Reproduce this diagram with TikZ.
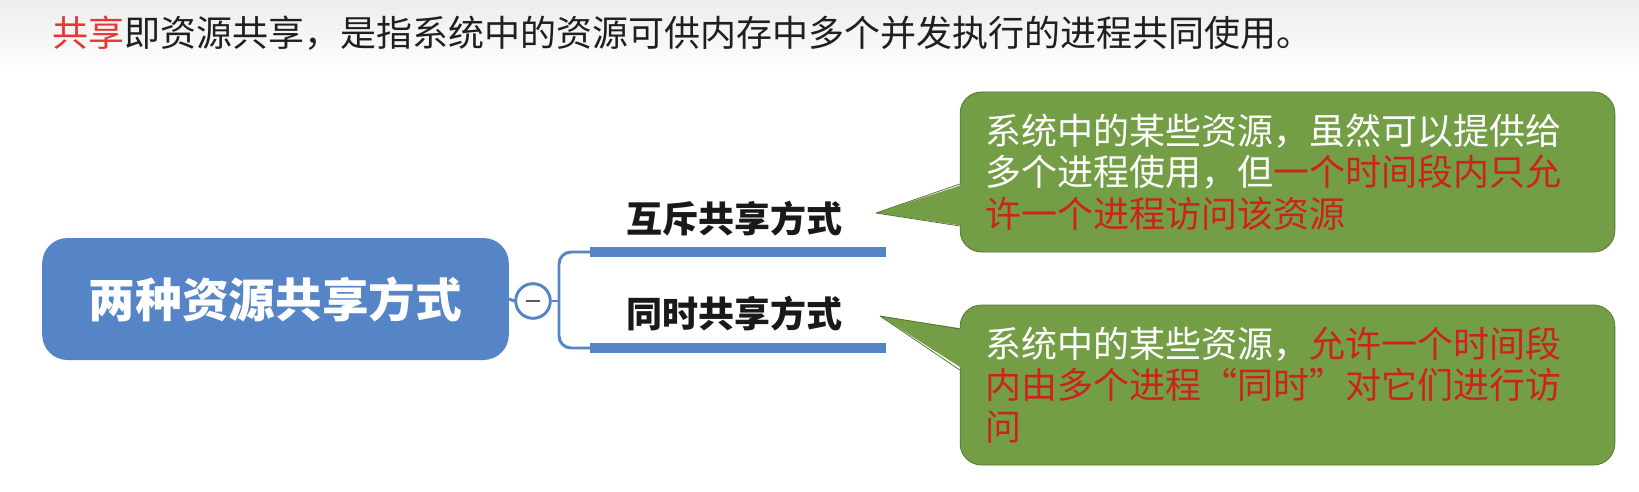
\documentclass[tikz,border=0pt]{standalone}
\usepackage{fontspec}
\setmainfont{Noto Sans CJK SC}
\newfontfamily\cjk{Noto Sans CJK SC}
\usepackage{tikz}
\usetikzlibrary{positioning,calc}
\usepackage{xcolor}
\definecolor{topicblue}{RGB}{86,133,199}
\definecolor{notegreen}{RGB}{116,158,70}
\definecolor{notered}{RGB}{205,35,30}
\definecolor{titlered}{RGB}{228,55,55}
\tikzset{
  topic/.style={fill=topicblue, rounded corners=19pt, minimum width=350pt, minimum height=91.5pt,
    text=white, font=\cjk\bfseries\fontsize{35}{40}\selectfont},
  fold/.style={circle, draw=topicblue, fill=white, line width=2.2pt, minimum size=26pt, inner sep=0pt},
  branch/.style={draw=topicblue, line width=2.2pt},
  underline/.style={draw=topicblue, line width=7.5pt},
  sublabel/.style={text=black!90, font=\cjk\bfseries\fontsize{27}{32}\selectfont},
  notebox/.style={fill=notegreen, draw=notegreen!75!black, line width=0.6pt, rounded corners=16pt,
    minimum width=491pt, minimum height=120pt, text width=453pt, inner xsep=19pt, align=left,
    text=white, font=\cjk\fontsize{27}{31.1}\selectfont},
  noteedge/.style={draw=notegreen!75!black, line width=0.6pt, line join=round}
}

\begin{document}
\begin{tikzpicture}[x=0.75pt,y=-0.75pt,every node/.style={font=\cjk}]
\useasboundingbox (0,0) rectangle (1639,492);
\shade[top color=black!7, bottom color=white] (0,0) rectangle (1639,75);

\node[anchor=west, inner sep=0pt, text=black!88, font=\cjk\fontsize{27}{31}\selectfont] (title) at (52,33)
  {\textcolor{titlered}{共享}即资源共享，是指系统中的资源可供内存中多个并发执行的进程共同使用。};

\node[topic] (topic) at (275.5,299) {两种资源共享方式};
\node[fold] (fold) at (533,301) {};
\draw[gray!70!black, line width=1.5pt] ($(fold.center)+(-7,0)$) -- ($(fold.center)+(7,0)$);
\draw[branch] (topic.east) -- (fold.west);

\node[sublabel] (mutex) at (734,219) {互斥共享方式};
\node[sublabel] (simul) at (734,314) {同时共享方式};
\coordinate (mutexL) at (590,252);
\coordinate (mutexR) at (886,252);
\coordinate (simulL) at (590,348);
\coordinate (simulR) at (886,348);
\coordinate (joint) at (559,301);
\draw[underline] (mutexL) -- (mutexR);
\draw[underline] (simulL) -- (simulR);
\draw[branch] (fold.east) -- (joint);
\draw[branch, rounded corners=9pt] (mutexL) -| (joint) |- (simulL);

\node[notebox] (note1) at (1287.5,172) {系统中的某些资源，虽然可以提供给\\
  多个进程使用，但\textcolor{notered}{一个时间段内只允}\\
  \textcolor{notered}{许一个进程访问该资源}};
\node[notebox] (note2) at (1287.5,385) {系统中的某些资源，\textcolor{notered}{允许一个时间段}\\
  \textcolor{notered}{内由多个进程“同时”对它们进行访}\\
  \textcolor{notered}{问}};

\coordinate (tip1) at (876,213);
\coordinate (tip2) at (880,316);
\fill[notegreen] ($(note1.west)+(5,12)$) -- (tip1) -- ($(note1.west)+(5,54)$) -- cycle;
\draw[noteedge] ($(note1.west)+(0,12)$) -- (tip1) -- ($(note1.west)+(0,54)$);
\fill[notegreen] ($(note2.west)+(5,-56)$) -- (tip2) -- ($(note2.west)+(5,-15)$) -- cycle;
\draw[noteedge] ($(note2.west)+(0,-56)$) -- (tip2) -- ($(note2.west)+(0,-15)$);
\end{tikzpicture}
\end{document}
